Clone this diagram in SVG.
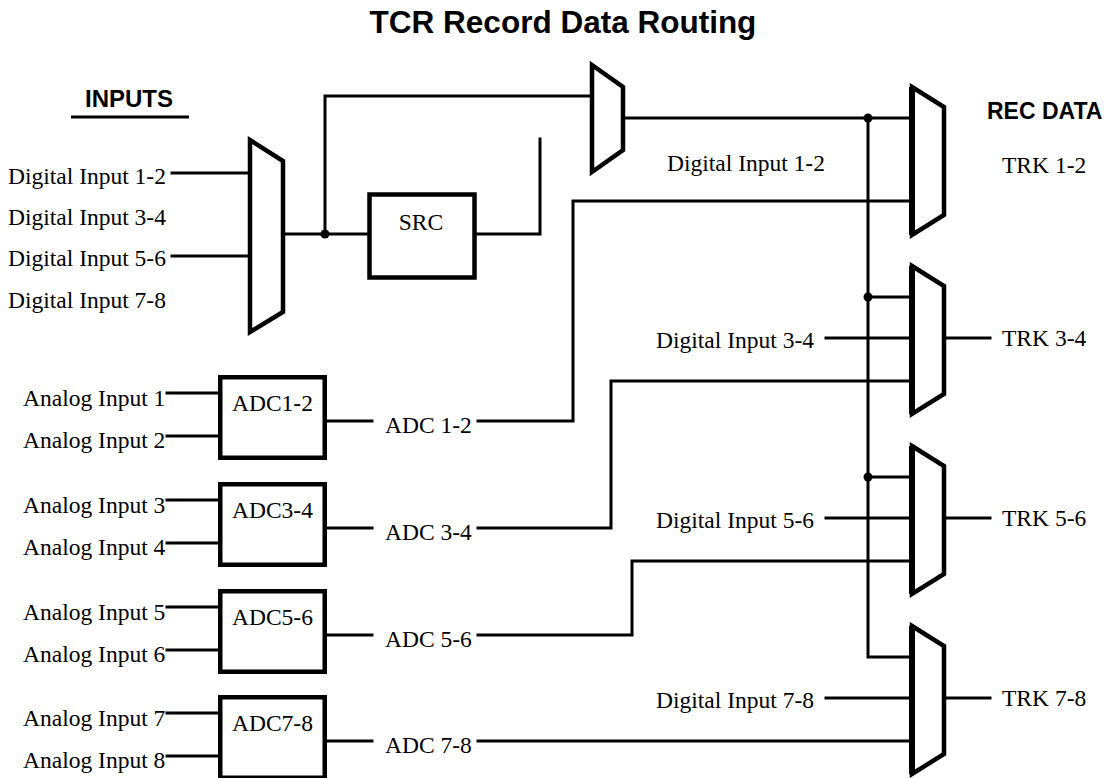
<svg xmlns="http://www.w3.org/2000/svg" width="1108" height="778" viewBox="0 0 1108 778">
<style>
.t{font-family:"Liberation Serif","Times New Roman",serif;font-size:23.5px;fill:#000}
.h{font-family:"Liberation Sans",Arial,sans-serif;font-weight:bold;fill:#000}
.w{fill:none;stroke:#000;stroke-width:3;stroke-linecap:square}
.mux{fill:#fff;stroke:#000;stroke-width:4.5;stroke-linejoin:miter}
.box{fill:#fff;stroke:#000;stroke-width:4.5}
.edge{stroke:#000;stroke-width:6}
</style>
<rect width="1108" height="778" fill="#fff"/>
<text class="h" x="563" y="33" font-size="31.5" text-anchor="middle">TCR Record Data Routing</text>
<g id="inputs-heading">
<text class="h" x="85" y="107" font-size="24">INPUTS</text>
<line x1="71" y1="117" x2="189" y2="117" stroke="#000" stroke-width="3"/>
</g>
<text class="h" x="987" y="119" font-size="23">REC DATA</text>

<g id="connectors">
<polyline class="w" points="172,173 250,173"/>
<polyline class="w" points="172,256 250,256"/>
<polyline class="w" points="283,234 368,234"/>
<polyline class="w" points="325,234 325,96 592,96"/>
<polyline class="w" points="477,234 540,234 540,139"/>
<polyline class="w" points="623,118 912,118"/>
<polyline class="w" points="868,118 868,657 912,657"/>
<polyline class="w" points="478,421 573,421 573,201 912,201"/>
<polyline class="w" points="868,297 912,297"/>
<polyline class="w" points="826,338 912,338"/>
<polyline class="w" points="478,528 611,528 611,381 912,381"/>
<polyline class="w" points="944,338 990,338"/>
<polyline class="w" points="868,477 912,477"/>
<polyline class="w" points="826,518 912,518"/>
<polyline class="w" points="478,635 632,635 632,561 912,561"/>
<polyline class="w" points="944,518 990,518"/>
<polyline class="w" points="826,698 912,698"/>
<polyline class="w" points="478,741 912,741"/>
<polyline class="w" points="944,698 990,698"/>
<polyline class="w" points="167,393 218,393"/>
<polyline class="w" points="167,436 218,436"/>
<polyline class="w" points="327,421 372,421"/>
<polyline class="w" points="167,500 218,500"/>
<polyline class="w" points="167,543 218,543"/>
<polyline class="w" points="327,528 372,528"/>
<polyline class="w" points="167,607 218,607"/>
<polyline class="w" points="167,650 218,650"/>
<polyline class="w" points="327,635 372,635"/>
<polyline class="w" points="167,713 218,713"/>
<polyline class="w" points="167,756 218,756"/>
<polyline class="w" points="327,741 372,741"/>
<circle cx="325" cy="234" r="4.5"/>
<circle cx="868" cy="118" r="4.5"/>
<circle cx="868" cy="297" r="4.5"/>
<circle cx="868" cy="477" r="4.5"/>
</g>

<g id="digital-inputs">
<text class="t" x="8" y="184">Digital Input 1-2</text>
<text class="t" x="8" y="225">Digital Input 3-4</text>
<text class="t" x="8" y="266">Digital Input 5-6</text>
<text class="t" x="8" y="308">Digital Input 7-8</text>
</g>

<g id="input-mux">
<polygon class="mux" points="250,140 283,161 283,312 250,332"/>
</g>

<g id="src">
<rect class="box" x="369.5" y="194.5" width="105" height="83" stroke-width="5"/>
<text class="t" x="421" y="230" text-anchor="middle">SRC</text>
</g>

<g id="src-mux">
<polygon class="mux" points="592,65 623,87 623,150 592,172" stroke-width="3.5"/>
<text class="t" x="667" y="171">Digital Input 1-2</text>
</g>

<g id="mux-trk12">
<polygon class="mux" points="912,87 944,107 944,215 912,235"/>
<line class="edge" x1="912" y1="87" x2="912" y2="235"/>
<text class="t" x="1002" y="173">TRK 1-2</text>
</g>
<g id="mux-trk34">
<polygon class="mux" points="912,266 944,286 944,394 912,414"/>
<line class="edge" x1="912" y1="266" x2="912" y2="414"/>
<text class="t" x="814" y="348" text-anchor="end">Digital Input 3-4</text>
<text class="t" x="1002" y="346">TRK 3-4</text>
</g>
<g id="mux-trk56">
<polygon class="mux" points="912,446 944,466 944,574 912,594"/>
<line class="edge" x1="912" y1="446" x2="912" y2="594"/>
<text class="t" x="814" y="528" text-anchor="end">Digital Input 5-6</text>
<text class="t" x="1002" y="526">TRK 5-6</text>
</g>
<g id="mux-trk78">
<polygon class="mux" points="912,626 944,646 944,754 912,774"/>
<line class="edge" x1="912" y1="626" x2="912" y2="774"/>
<text class="t" x="814" y="708" text-anchor="end">Digital Input 7-8</text>
<text class="t" x="1002" y="706">TRK 7-8</text>
</g>

<g id="adc12">
<text class="t" x="23" y="406">Analog Input 1</text>
<text class="t" x="23" y="448">Analog Input 2</text>
<rect class="box" x="220.25" y="377.25" width="104.5" height="80.5"/>
<text class="t" x="232" y="411">ADC1-2</text>
<text class="t" x="385" y="433">ADC 1-2</text>
</g>
<g id="adc34">
<text class="t" x="23" y="513">Analog Input 3</text>
<text class="t" x="23" y="555">Analog Input 4</text>
<rect class="box" x="220.25" y="484.25" width="104.5" height="80.5"/>
<text class="t" x="232" y="518">ADC3-4</text>
<text class="t" x="385" y="540">ADC 3-4</text>
</g>
<g id="adc56">
<text class="t" x="23" y="620">Analog Input 5</text>
<text class="t" x="23" y="662">Analog Input 6</text>
<rect class="box" x="220.25" y="591.25" width="104.5" height="80.5"/>
<text class="t" x="232" y="625">ADC5-6</text>
<text class="t" x="385" y="647">ADC 5-6</text>
</g>
<g id="adc78">
<text class="t" x="23" y="726">Analog Input 7</text>
<text class="t" x="23" y="768">Analog Input 8</text>
<rect class="box" x="220.25" y="697.25" width="104.5" height="80.5"/>
<text class="t" x="232" y="731">ADC7-8</text>
<text class="t" x="385" y="753">ADC 7-8</text>
</g>
</svg>
